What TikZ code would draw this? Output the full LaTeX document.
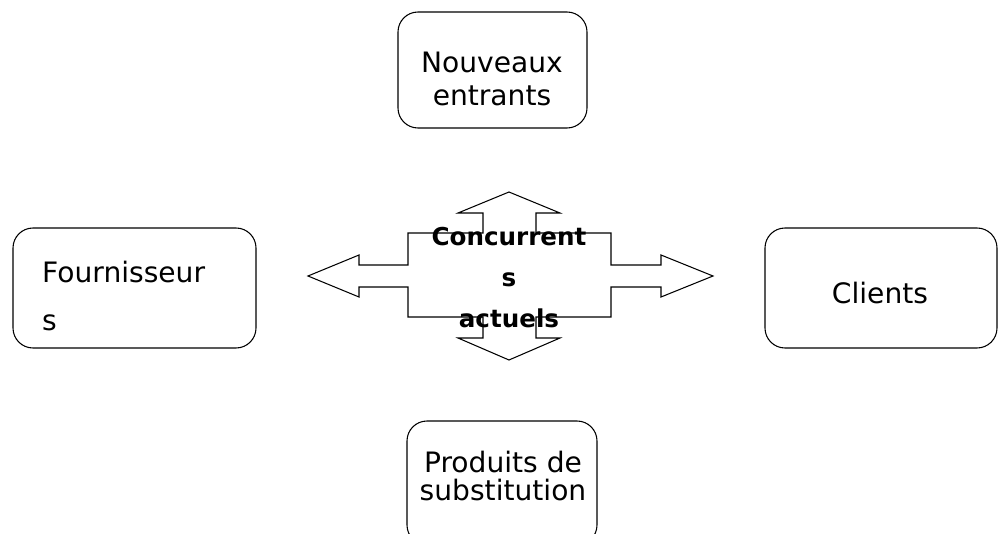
\documentclass[tikz,border=0pt]{standalone}
\usepackage{fontspec}
\setmainfont{DejaVu Sans}
\usepackage{tikz}

\tikzset{
  box/.style={draw, line width=0.9pt, rounded corners=0.6cm, inner sep=0pt},
  txt/.style={inner sep=0pt, font=\fontsize{24}{28}\selectfont},
}

\begin{document}
\begin{tikzpicture}[x=0.03cm, y=-0.03cm]
        \clip (0,0) rectangle (999,534);                                        % page

        \node [box, minimum width=5.67cm, minimum height=3.48cm] (nouveaux) at (492.5,70)  {};  % top
        \node [box, minimum width=7.29cm, minimum height=3.6cm]  (fourn)    at (134.5,288) {};  % left
        \node [box, minimum width=6.96cm, minimum height=3.6cm]  (clients)  at (881,288)   {};  % right
        \node [box, minimum width=5.7cm,  minimum height=3.72cm] (produits) at (502,483)   {};  % bottom

        \node [txt, align=center]            (nouveauxtxt) at (492,79)  {Nouveaux\\entrants};
        \node [txt, align=left, anchor=west,
               font=\fontsize{24}{41}\selectfont] (fourntxt) at (42,296) {Fournisseur\\s};
        \node [txt]                          (clientstxt)  at (880,293) {Clients};
        \node [txt, align=center,
               font=\fontsize{24}{24}\selectfont] (produitstxt) at (503,476) {Produits de\\substitution};

        % cross arrow
        \draw [line width=0.9pt, fill=white]
              (308,276) -- (359,255) -- (359,265) -- (408,265) -- (408,233) -- (483,233) -- (483,213) -- (458,213)
           -- (509,192) -- (560,213) -- (536,213) -- (536,233) -- (611,233) -- (611,265) -- (661,265) -- (661,255)
           -- (713,276) -- (661,297) -- (661,287) -- (611,287) -- (611,317) -- (536,317) -- (536,338) -- (560,338)
           -- (509,360) -- (458,338) -- (483,338) -- (483,317) -- (408,317) -- (408,287) -- (359,287) -- (359,297)
           -- cycle;
        \node [txt, align=center, font=\bfseries\fontsize{21}{35}\selectfont] (concurrents) at (509,278) {Concurrent\\s\\actuels};
\end{tikzpicture}
\end{document}
